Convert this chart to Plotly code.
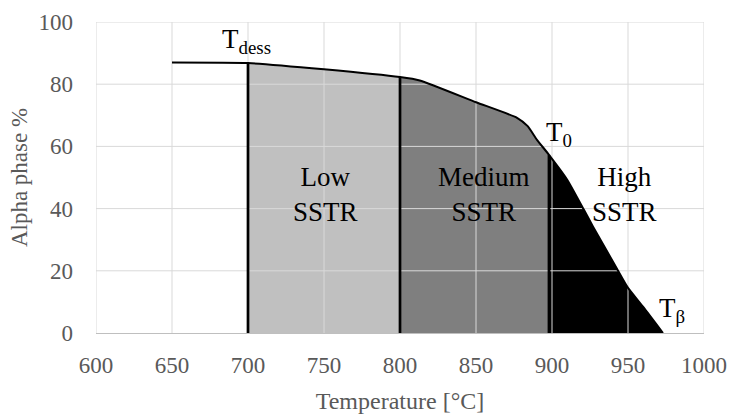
import plotly.graph_objects as go

# Data
temps = [650, 700, 750, 800, 813, 850, 877, 884, 890, 898, 910, 921, 927, 942, 950, 960, 973]
alpha = [87.0, 86.8, 84.8, 82.3, 81.2, 74.2, 69.2, 66.5, 62.2, 57.3, 49.3, 39.6, 34.2, 21.3, 14.5, 8.4, 0.0]

region_bounds = [700, 800, 898, 973]
region_colors = ["#c0c0c0", "#7f7f7f", "#000000"]
region_labels = ["Low<br>SSTR", "Medium<br>SSTR", "High<br>SSTR"]
region_label_x = [751, 855, 948]
region_label_y = 44.5

x_ticks = [600, 650, 700, 750, 800, 850, 900, 950, 1000]
y_ticks = [0, 20, 40, 60, 80, 100]

FONT = "'Liberation Serif', Tinos, 'Times New Roman', serif"
GRID = "#d9d9d9"
GREY = "#595959"

fig = go.Figure()

# filled regions
for i in range(3):
    a, b = region_bounds[i], region_bounds[i + 1]
    xs = [t for t in temps if a <= t <= b]
    ys = [v for t, v in zip(temps, alpha) if a <= t <= b]
    fig.add_trace(go.Scatter(x=xs, y=ys, mode="lines", line=dict(width=0, shape="spline", smoothing=0.5),
                             fill="tozeroy", fillcolor=region_colors[i],
                             hoverinfo="skip", showlegend=False))

# gridlines drawn over the fills
gx, gy = [], []
for t in x_ticks:
    gx += [t, t, None]
    gy += [y_ticks[0], y_ticks[-1], None]
for v in y_ticks[1:]:
    gx += [x_ticks[0], x_ticks[-1], None]
    gy += [v, v, None]
fig.add_trace(go.Scatter(x=gx, y=gy, mode="lines", line=dict(color=GRID, width=1),
                         hoverinfo="skip", showlegend=False, cliponaxis=False))

# vertical boundary lines
for b in region_bounds[:3]:
    v = alpha[temps.index(b)]
    fig.add_trace(go.Scatter(x=[b, b], y=[0, v], mode="lines",
                             line=dict(color="black", width=2.7),
                             hoverinfo="skip", showlegend=False))

# alpha curve
fig.add_trace(go.Scatter(x=temps, y=alpha, mode="lines",
                         line=dict(color="black", width=2, shape="spline", smoothing=0.5),
                         showlegend=False))

ann_font = dict(family=FONT, size=27, color="black")
for lab, lx in zip(region_labels, region_label_x):
    fig.add_annotation(x=lx, y=region_label_y, text=lab, showarrow=False,
                       font=ann_font, align="center", xanchor="center", yanchor="middle")

fig.add_annotation(x=699, y=94.0, text="T<sub>dess</sub>", showarrow=False,
                   font=ann_font, xanchor="center", yanchor="middle")
fig.add_annotation(x=895, y=64.0, text="T<sub>0</sub>", showarrow=False,
                   font=ann_font, xanchor="left", yanchor="middle")
fig.add_annotation(x=969, y=7.5, text="T<sub>β</sub>", showarrow=False,
                   font=ann_font, xanchor="left", yanchor="middle")

fig.update_layout(
    width=730, height=414,
    font=dict(family=FONT, size=23, color=GREY),
    margin=dict(l=96, r=26, t=22, b=81, autoexpand=False),
    paper_bgcolor="white", plot_bgcolor="white",
    xaxis=dict(range=[600, 1000], tickvals=x_ticks, showgrid=False, zeroline=False,
               showline=True, linecolor="#bfbfbf", linewidth=1, automargin=False,
               tickfont=dict(family=FONT, size=23, color=GREY), ticks="", ticklabelstandoff=11,
               title=dict(text="Temperature [°C]", font=dict(family=FONT, size=24, color=GREY), standoff=15)),
    yaxis=dict(range=[0, 100], tickvals=y_ticks, showgrid=False, zeroline=False, automargin=False,
               showline=False, tickfont=dict(family=FONT, size=23, color=GREY), ticks="", ticklabelstandoff=22,
               title=dict(text="Alpha phase %", font=dict(family=FONT, size=23, color=GREY), standoff=4)),
)

fig.write_html("out.html")
